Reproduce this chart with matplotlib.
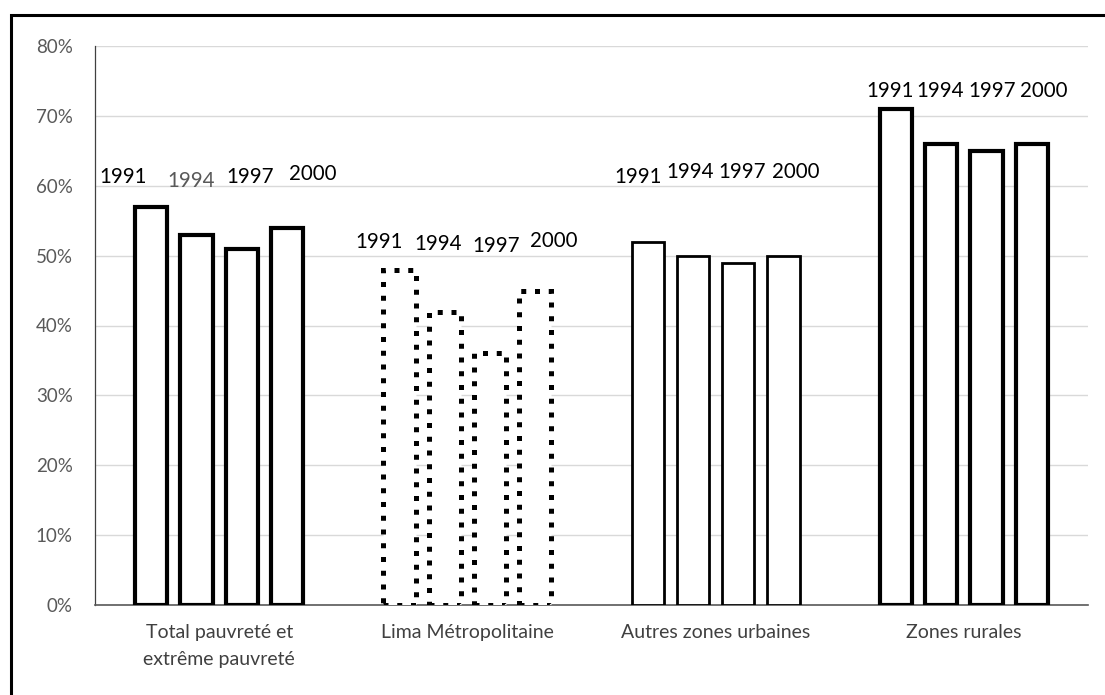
import matplotlib
import matplotlib.pyplot as plt
import numpy as np
from matplotlib.patches import Rectangle
from matplotlib.ticker import FuncFormatter

matplotlib.rc('font', family=['Lato', 'DejaVu Sans'])

# donnees
categories = ['Total pauvreté et\nextrême pauvreté', 'Lima Métropolitaine',
              'Autres zones urbaines', 'Zones rurales']
years = ['1991', '1994', '1997', '2000']
total = [57, 53, 51, 54]
lima = [48, 42, 36, 45]
autres = [52, 50, 49, 50]
rurales = [71, 66, 65, 66]
groups = [total, lima, autres, rurales]

# style de contour par groupe
edge_lw = [3.0, 3.6, 2.0, 3.0]
edge_ls = ['-', (0, (1, 1.75)), '-', '-']

# position des etiquettes d'annee (decalage x, y de la ligne de base en %)
lab_dx = [[-0.386, -0.111, 0.123, 0.378],
          [-0.356, -0.117, 0.117, 0.347],
          [-0.313, -0.103, 0.107, 0.321],
          [-0.299, -0.097, 0.113, 0.323]]
lab_y = [[60.4, 59.8, 60.4, 60.8],
         [51.1, 50.8, 50.5, 51.2],
         [60.4, 61.1, 61.1, 61.1],
         [72.7, 72.7, 72.7, 72.7]]

fig = plt.figure(figsize=(11.05, 6.95), dpi=100)
ax = fig.add_axes([95/1105, 1-605/695, (1088-95)/1105, (605-46)/695])

pitch = 0.182
width = 0.13
x = np.arange(len(categories))
for g, vals in enumerate(groups):
    for k, v in enumerate(vals):
        xc = x[g] + (k - 1.5) * pitch
        ax.bar(xc, v, width, facecolor='white', edgecolor='black',
               linewidth=edge_lw[g], linestyle=edge_ls[g], zorder=3)
        ax.text(x[g] + lab_dx[g][k], lab_y[g][k], years[k], ha='center', va='baseline',
                fontsize=14.8, color='#595959' if (g == 0 and k == 1) else 'black')

ax.set_xlim(-0.5, 3.5)
ax.set_ylim(0, 80)
ax.set_yticks(np.arange(0, 81, 10))
ax.yaxis.set_major_formatter(FuncFormatter(lambda v, p: '%d%%' % v))
ax.set_xticks(x)
ax.set_xticklabels(categories, linespacing=1.7)
ax.tick_params(axis='y', length=0, pad=16, labelsize=13.5, labelcolor='#595959')
ax.tick_params(axis='x', length=0, pad=14, labelsize=14, labelcolor='#404040')
ax.grid(axis='y', color='#d9d9d9', linewidth=1, zorder=0)
ax.set_axisbelow(True)
for s in ['top', 'right']:
    ax.spines[s].set_visible(False)
ax.spines['left'].set_color('#404040')
ax.spines['left'].set_linewidth(0.9)
ax.spines['bottom'].set_color('#595959')
ax.spines['bottom'].set_linewidth(1.2)

# cadre exterieur
fig.add_artist(Rectangle((11/1105, -0.1), 1.2, 1 - 15/695 + 0.1,
                         transform=fig.transFigure, fill=False,
                         edgecolor='black', linewidth=2.2))

fig.savefig('out.png', dpi=100)
